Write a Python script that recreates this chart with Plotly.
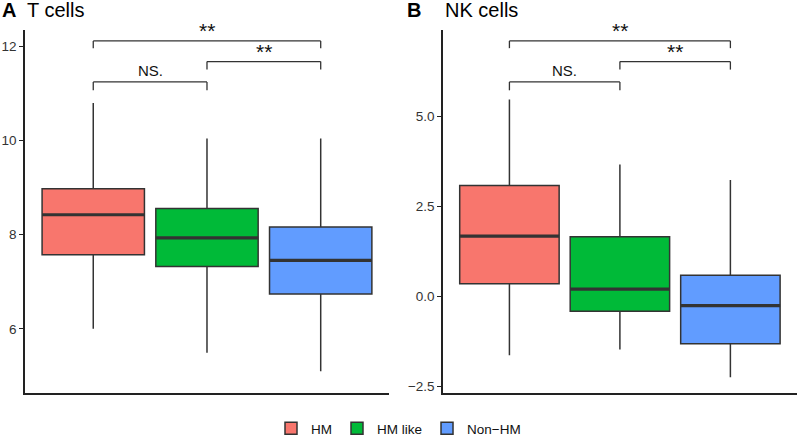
import plotly.graph_objects as go

groups = ["HM", "HM like", "Non−HM"]
colors = ["#F8766D", "#00BA38", "#619CFF"]

# T cells box stats
t_low = [6.00, 5.49, 5.10]
t_q1 = [7.57, 7.32, 6.74]
t_med = [8.42, 7.93, 7.45]
t_q3 = [8.97, 8.55, 8.16]
t_high = [10.79, 10.04, 10.04]

# NK cells box stats
nk_low = [-1.63, -1.47, -2.24]
nk_q1 = [0.36, -0.41, -1.31]
nk_med = [1.68, 0.21, -0.25]
nk_q3 = [3.09, 1.66, 0.59]
nk_high = [5.48, 3.67, 3.24]

# comparisons: (group a, group b, label)
comparisons = [(0, 1, "NS."), (1, 2, "**"), (0, 2, "**")]

BOX_W = 0.9
LINE = "#333333"
FONT = "Liberation Sans, Arial, sans-serif"

fig = go.Figure()


def add_panel(fig, low, q1, med, q3, high, xa, ya, show_legend):
    for i, g in enumerate(groups):
        pos = i + 1
        fig.add_trace(go.Box(
            x=[pos], q1=[q1[i]], median=[med[i]], q3=[q3[i]],
            lowerfence=[low[i]], upperfence=[high[i]],
            name=g, legendgroup=g, showlegend=show_legend,
            fillcolor=colors[i], line=dict(color=LINE, width=1.5),
            width=BOX_W, whiskerwidth=0, boxpoints=False,
            xaxis=xa, yaxis=ya, hoverinfo="skip"))
        # thicker median line like ggplot
        fig.add_trace(go.Scatter(
            x=[pos - BOX_W / 2, pos + BOX_W / 2], y=[med[i], med[i]],
            mode="lines", line=dict(color=LINE, width=3.2),
            showlegend=False, hoverinfo="skip", xaxis=xa, yaxis=ya))

    # significance brackets (y levels in axis-domain fractions)
    levels = [(0.857, 0.834), (0.913, 0.891), (0.970, 0.950)]
    xr = xa
    yr = ya + " domain"
    for (a, b, lab), (top, foot) in zip(comparisons, levels):
        xa_pos, xb_pos = a + 1, b + 1
        for x0, y0, x1, y1 in [(xa_pos, foot, xa_pos, top), (xa_pos, top, xb_pos, top),
                               (xb_pos, top, xb_pos, foot)]:
            fig.add_shape(type="line", xref=xr, yref=yr, x0=x0, y0=y0, x1=x1, y1=y1,
                          line=dict(color=LINE, width=1.3))
        stars = lab.startswith("*")
        fig.add_annotation(xref=xr, yref=yr, x=(xa_pos + xb_pos) / 2, y=top,
                           text=lab, showarrow=False, yanchor="bottom",
                           yshift=-3 if stars else 1,
                           font=dict(size=21 if stars else 15, color="#111111", family=FONT))


add_panel(fig, t_low, t_q1, t_med, t_q3, t_high, "x", "y", True)
add_panel(fig, nk_low, nk_q1, nk_med, nk_q3, nk_high, "x2", "y2", False)

axis_common = dict(showline=True, linecolor="#222222", linewidth=1.6, showgrid=False,
                   zeroline=False, mirror=False)
xcommon = dict(axis_common, range=[0.4, 3.6], showticklabels=False, ticks="")
ycommon = dict(axis_common, ticks="outside", ticklen=4, tickwidth=1.3, tickcolor="#222222",
               tickfont=dict(size=13.5, color="#333333", family=FONT))

fig.update_layout(
    width=797, height=444,
    margin=dict(l=0, r=0, t=0, b=0),
    paper_bgcolor="white", plot_bgcolor="white",
    font=dict(family=FONT, color="#111111"),
    boxmode="overlay",
    xaxis=dict(xcommon, domain=[0.0314, 0.488]),
    xaxis2=dict(xcommon, domain=[0.556, 0.9996], anchor="y2"),
    yaxis=dict(ycommon, domain=[0.108, 0.932], range=[4.63, 12.34], dtick=2),
    yaxis2=dict(ycommon, domain=[0.108, 0.932], range=[-2.69, 7.41], dtick=2.5,
                tickformat=".1f", anchor="x2"),
    legend=dict(orientation="h", x=0.5, xanchor="center", y=0.028, yanchor="middle",
                font=dict(size=13.5, color="#111111", family=FONT)),
)

# panel letters and titles
fig.add_annotation(xref="paper", yref="paper", x=0.0, y=0.977, text="<b>A</b>",
                   showarrow=False, xanchor="left", yanchor="middle",
                   font=dict(size=20, color="#000000", family=FONT))
fig.add_annotation(xref="x domain", yref="paper", x=0, y=0.977, text="T cells",
                   showarrow=False, xanchor="left", yanchor="middle",
                   font=dict(size=20, color="#000000", family=FONT))
fig.add_annotation(xref="paper", yref="paper", x=0.508, y=0.977, text="<b>B</b>",
                   showarrow=False, xanchor="left", yanchor="middle",
                   font=dict(size=20, color="#000000", family=FONT))
fig.add_annotation(xref="x2 domain", yref="paper", x=0, y=0.977, text="NK cells",
                   showarrow=False, xanchor="left", yanchor="middle",
                   font=dict(size=20, color="#000000", family=FONT))

# drop the browser's default body margin so the figure sits at the window corner
fig.write_html("out.html", config={"displayModeBar": False},
               post_script="document.body.style.margin='0';")
